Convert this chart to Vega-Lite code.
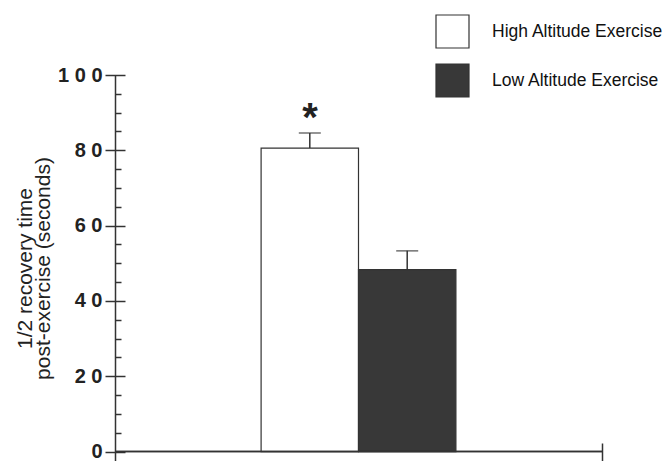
{
  "$schema": "https://vega.github.io/schema/vega-lite/v6.json",
  "width": 487,
  "height": 386,
  "autosize": "none",
  "padding": {"left": 115, "top": 75, "right": 62, "bottom": 0},
  "background": "white",
  "config": {
    "view": {"stroke": null},
    "font": "Liberation Sans",
    "axis": {"grid": false, "domainColor": "#333", "tickColor": "#333", "domainWidth": 1.5, "tickWidth": 1.5}
  },
  "data": {
    "values": [
      {"group": "High Altitude Exercise", "mean": 80.6, "err": 84.6, "star": "*"},
      {"group": "Low Altitude Exercise", "mean": 48.3, "err": 53.3, "star": ""}
    ]
  },
  "layer": [
    {
      "mark": {"type": "bar", "stroke": "#333", "strokeWidth": 1.2},
      "encoding": {
        "x": {"field": "group", "type": "nominal", "axis": null,
              "scale": {"domain": ["High Altitude Exercise", "Low Altitude Exercise"], "paddingInner": 0, "paddingOuter": 1, "range": [48.7, 438.3]}},
        "y": {"field": "mean", "type": "quantitative",
              "scale": {"domain": [-2.5, 100], "nice": false, "zero": false},
              "axis": {"orient": "left", "ticks": false, "labels": false, "domain": true,
                       "title": ["1/2 recovery time", "post-exercise (seconds)"],
                       "titleFont": "Liberation Sans", "titleFontSize": 21, "titleFontWeight": "normal",
                       "titleLineHeight": 18, "titleColor": "#222", "titlePadding": 62}},
        "fill": {"field": "group", "type": "nominal",
                 "scale": {"domain": ["High Altitude Exercise", "Low Altitude Exercise"], "range": ["white", "#383838"]},
                 "legend": {"orient": "none", "legendX": 320, "legendY": -61, "title": null,
                            "symbolType": "square", "symbolSize": 1089, "symbolStrokeColor": "#333", "symbolStrokeWidth": 1.2,
                            "labelFont": "Liberation Sans", "labelFontSize": 17.5, "labelColor": "#111",
                            "labelOffset": 22, "rowPadding": 10, "padding": 0, "labelLimit": 300}}
      }
    },
    {
      "mark": {"type": "rule", "color": "#333", "strokeWidth": 1.5},
      "encoding": {
        "x": {"field": "group", "type": "nominal", "axis": null,
              "scale": {"domain": ["High Altitude Exercise", "Low Altitude Exercise"], "paddingInner": 0, "paddingOuter": 1, "range": [48.7, 438.3]}},
        "y": {"field": "mean", "type": "quantitative",
              "scale": {"domain": [-2.5, 100], "nice": false, "zero": false},
              "axis": {"orient": "left", "values": [0, 20, 40, 60, 80, 100], "offset": -10, "tickSize": 20,
                       "domain": false, "labelPadding": 3, "title": null,
                       "labelExpr": "join(split(datum.label, ''), ' ')",
                       "labelFont": "Liberation Sans", "labelFontSize": 20, "labelFontWeight": "bold", "labelColor": "#222"}},
        "y2": {"field": "err"}
      }
    },
    {
      "mark": {"type": "tick", "color": "#333", "thickness": 1.5, "size": 22},
      "encoding": {
        "x": {"field": "group", "type": "nominal", "axis": null,
              "scale": {"domain": ["High Altitude Exercise", "Low Altitude Exercise"], "paddingInner": 0, "paddingOuter": 1, "range": [48.7, 438.3]}},
        "y": {"field": "err", "type": "quantitative",
              "scale": {"domain": [-2.5, 100], "nice": false, "zero": false},
              "axis": {"orient": "left", "values": [5, 10, 15, 25, 30, 35, 45, 50, 55, 65, 70, 75, 85, 90, 95],
                       "offset": -6, "tickSize": 6, "domain": false, "labels": false, "title": null}}
      }
    },
    {
      "mark": {"type": "text", "fontSize": 40, "fontWeight": "bold", "font": "Liberation Sans", "color": "#222", "baseline": "alphabetic", "align": "center", "dx": 49, "dy": -2},
      "encoding": {
        "x": {"field": "group", "type": "nominal", "axis": null,
              "scale": {"domain": ["High Altitude Exercise", "Low Altitude Exercise"], "paddingInner": 0, "paddingOuter": 1, "range": [48.7, 438.3]}},
        "y": {"field": "err", "type": "quantitative", "axis": null,
              "scale": {"domain": [-2.5, 100], "nice": false, "zero": false}},
        "text": {"field": "star"}
      }
    },
    {
      "mark": {"type": "rule", "color": "#333", "strokeWidth": 1.5},
      "encoding": {
        "y": {"datum": 0, "type": "quantitative", "axis": null,
              "scale": {"domain": [-2.5, 100], "nice": false, "zero": false}},
        "x": {"datum": 0, "type": "quantitative", "scale": {"domain": [0, 1], "nice": false},
              "axis": {"orient": "bottom", "values": [1], "tickSize": -18, "domain": false, "labels": false, "title": null}},
        "x2": {"datum": 1}
      }
    }
  ],
  "resolve": {
    "scale": {"x": "independent", "y": "shared", "fill": "shared"},
    "axis": {"x": "independent", "y": "independent"}
  }
}
